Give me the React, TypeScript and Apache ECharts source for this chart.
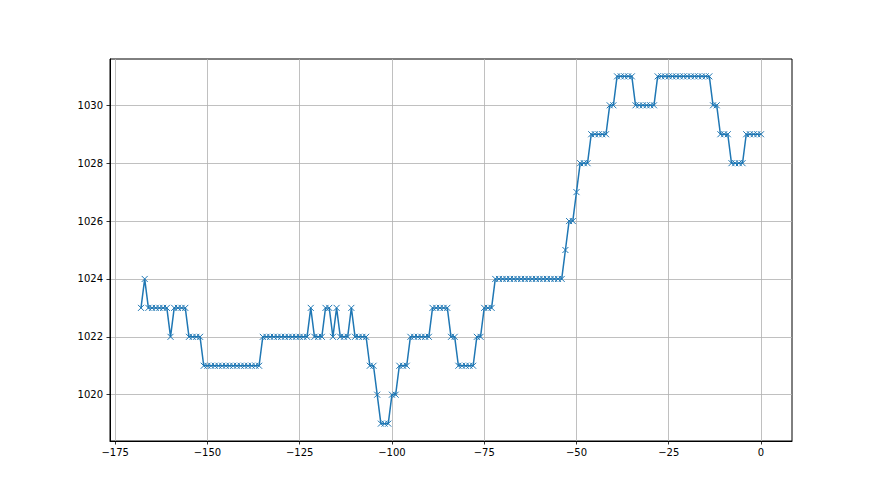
import React, { useEffect, useRef } from "react";
import * as echarts from "echarts";

// x positions (hours before now) and pressure values (hPa)
const xValues: number[] = [
  -168, -167, -166, -165, -164, -163, -162, -161, -160, -159, -158, -157, -156, -155, -154, -153, -152,
  -151, -150, -149, -148, -147, -146, -145, -144, -143, -142, -141, -140, -139, -138, -137, -136,
  -135, -134, -133, -132, -131, -130, -129, -128, -127, -126, -125, -124, -123, -122, -121, -120,
  -119, -118, -117, -116, -115, -114, -113, -112, -111, -110, -109, -108, -107, -106, -105, -104,
  -103, -102, -101, -100, -99, -98, -97, -96, -95, -94, -93, -92, -91, -90, -89, -88, -87, -86,
  -85, -84, -83, -82, -81, -80, -79, -78, -77, -76, -75, -74, -73, -72, -71, -70, -69, -68, -67,
  -66, -65, -64, -63, -62, -61, -60, -59, -58, -57, -56, -55, -54, -53, -52, -51, -50, -49, -48,
  -47, -46, -45, -44, -43, -42, -41, -40, -39, -38, -37, -36, -35, -34, -33, -32, -31, -30, -29,
  -28, -27, -26, -25, -24, -23, -22, -21, -20, -19, -18, -17, -16, -15, -14, -13, -12, -11, -10,
  -9, -8, -7, -6, -5, -4, -3, -2, -1, 0,
];

const pressure: number[] = [
  1023, 1024, 1023, 1023, 1023, 1023, 1023, 1023, 1022, 1023, 1023, 1023, 1023, 1022, 1022, 1022, 1022,
  1021, 1021, 1021, 1021, 1021, 1021, 1021, 1021, 1021, 1021, 1021, 1021, 1021, 1021, 1021, 1021,
  1022, 1022, 1022, 1022, 1022, 1022, 1022, 1022, 1022, 1022, 1022, 1022, 1022, 1023, 1022, 1022,
  1022, 1023, 1023, 1022, 1023, 1022, 1022, 1022, 1023, 1022, 1022, 1022, 1022, 1021, 1021, 1020,
  1019, 1019, 1019, 1020, 1020, 1021, 1021, 1021, 1022, 1022, 1022, 1022, 1022, 1022, 1023, 1023, 1023, 1023,
  1023, 1022, 1022, 1021, 1021, 1021, 1021, 1021, 1022, 1022, 1023, 1023, 1023, 1024, 1024, 1024, 1024, 1024, 1024,
  1024, 1024, 1024, 1024, 1024, 1024, 1024, 1024, 1024, 1024, 1024, 1024, 1024, 1025, 1026, 1026, 1027, 1028, 1028,
  1028, 1029, 1029, 1029, 1029, 1029, 1030, 1030, 1031, 1031, 1031, 1031, 1031, 1030, 1030, 1030, 1030, 1030, 1030,
  1031, 1031, 1031, 1031, 1031, 1031, 1031, 1031, 1031, 1031, 1031, 1031, 1031, 1031, 1031, 1030, 1030, 1029, 1029,
  1029, 1028, 1028, 1028, 1028, 1029, 1029, 1029, 1029, 1029,
];

const xTicks: number[] = [-175, -150, -125, -100, -75, -50, -25, 0];
const yTicks: number[] = [1020, 1022, 1024, 1026, 1028, 1030];

export default function App() {
  const ref = useRef<HTMLDivElement>(null);

  useEffect(() => {
    if (!ref.current) return;
    const chart = echarts.init(ref.current, undefined, { renderer: "svg" });
    const data = xValues.map((x, i) => [x, pressure[i]]);
    const labelStyle = {
      color: "#000",
      fontSize: 10,
      fontFamily: "DejaVu Sans",
    };
    chart.setOption({
      animation: false,
      backgroundColor: "#fff",
      grid: {
        left: 110,
        right: 88,
        top: 59,
        bottom: 54,
        show: true,
        borderColor: "#000",
        borderWidth: 1,
        backgroundColor: "transparent",
      },
      xAxis: {
        type: "value",
        min: -176.4,
        max: 8.4,
        axisLine: { show: true, onZero: false, lineStyle: { color: "#000", width: 1 } },
        axisTick: {
          show: true,
          inside: false,
          length: 3.5,
          customValues: xTicks,
          lineStyle: { color: "#000", width: 0.8 },
        },
        axisLabel: {
          ...labelStyle,
          margin: 6,
          customValues: xTicks,
          formatter: (v: number) => (v < 0 ? "\u2212" + Math.abs(v) : String(v)),
        },
        splitLine: { show: true, lineStyle: { color: "#b0b0b0", width: 0.8 } },
      },
      yAxis: {
        type: "value",
        min: 1018.4,
        max: 1031.6,
        axisLine: { show: true, onZero: false, lineStyle: { color: "#000", width: 1 } },
        axisTick: {
          show: true,
          inside: false,
          length: 3.5,
          customValues: yTicks,
          lineStyle: { color: "#000", width: 0.8 },
        },
        axisLabel: {
          ...labelStyle,
          margin: 7,
          customValues: yTicks,
          formatter: (v: number) => String(v),
        },
        splitLine: { show: true, lineStyle: { color: "#b0b0b0", width: 0.8 } },
      },
      series: [
        {
          type: "line",
          data,
          symbol: "path://M0 0L10 10M10 0L0 10",
          symbolSize: 6,
          showSymbol: true,
          lineStyle: { color: "#1f77b4", width: 1.5 },
          itemStyle: { color: "#1f77b4", borderColor: "#1f77b4", borderWidth: 1 },
        },
      ],
    });
    return () => chart.dispose();
  }, []);

  return (
    <div
      ref={ref}
      style={{ position: "fixed", left: 0, top: 0, width: 880, height: 495, background: "#fff" }}
    />
  );
}
